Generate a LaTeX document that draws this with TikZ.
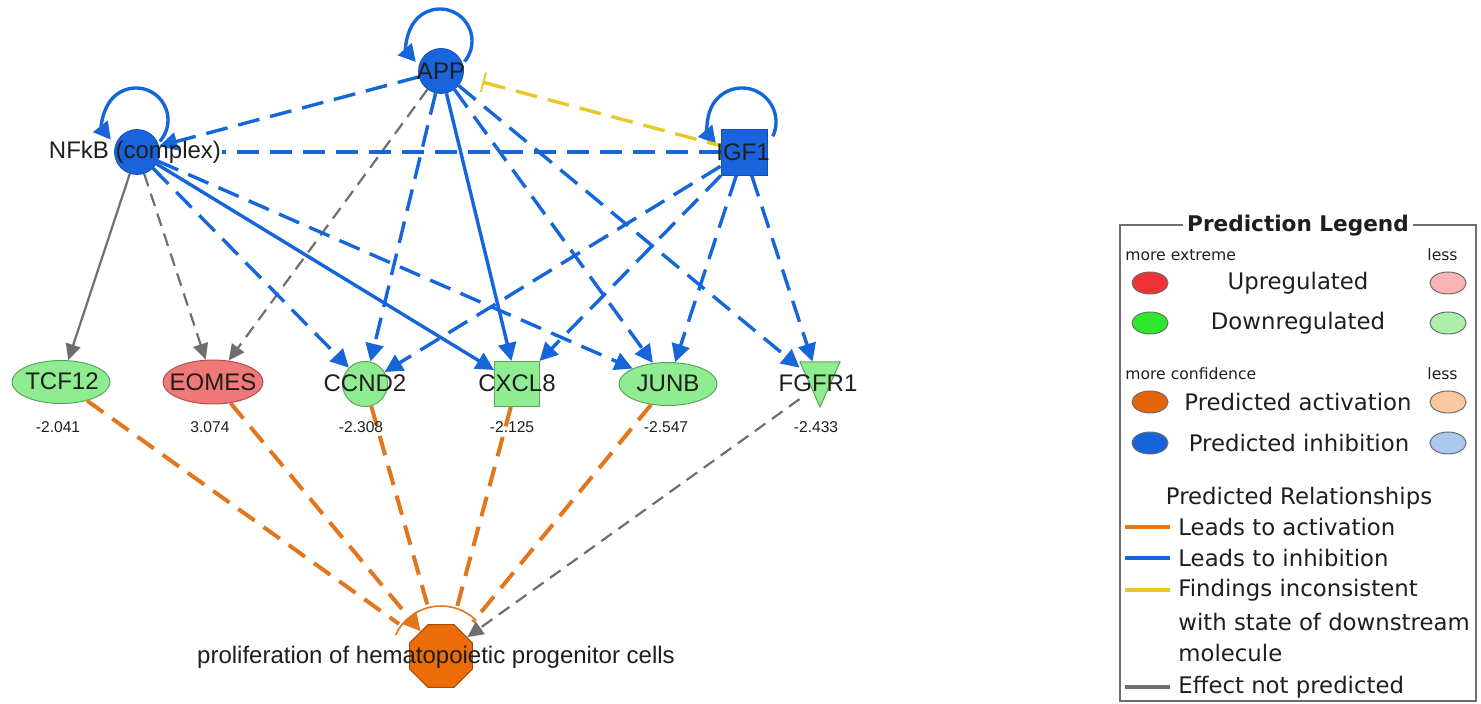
\documentclass[tikz,border=0pt]{standalone}
\usepackage{fontspec}
\setmainfont{Liberation Sans}
\newfontfamily\legfont{DejaVu Sans}
\usetikzlibrary{arrows.meta,shapes.geometric,calc}
\definecolor{eblue}{RGB}{22,102,218}
\definecolor{nblue}{RGB}{25,100,220}
\definecolor{egray}{RGB}{110,110,110}
\definecolor{eorange}{RGB}{226,118,28}
\definecolor{oct}{RGB}{236,108,10}
\definecolor{eyellow}{RGB}{232,200,40}
\definecolor{ngreen}{RGB}{144,236,144}
\definecolor{ngreenb}{RGB}{90,165,90}
\definecolor{nred}{RGB}{240,120,120}
\definecolor{nredb}{RGB}{175,80,80}
\definecolor{lred}{RGB}{240,50,55}
\definecolor{lpink}{RGB}{250,180,182}
\definecolor{lgreen}{RGB}{45,232,45}
\definecolor{llgreen}{RGB}{170,240,170}
\definecolor{lorange}{RGB}{228,100,10}
\definecolor{lpeach}{RGB}{250,200,160}
\definecolor{lblue}{RGB}{20,98,220}
\definecolor{llblue}{RGB}{170,200,240}
\definecolor{txt}{RGB}{30,30,30}
\tikzset{
  inh/.style={draw=eblue, line width=1.7pt, -{Triangle[length=9pt,width=9pt]}},
  inhd/.style={inh, dash pattern=on 11pt off 5.5pt},
  inhdn/.style={draw=eblue, line width=1.7pt, dash pattern=on 11pt off 5.5pt},
  gr/.style={draw=egray, line width=1.1pt, -{Triangle[length=8pt,width=7.5pt]}},
  grd/.style={gr, dash pattern=on 6.5pt off 4pt},
  actd/.style={draw=eorange, line width=2pt, dash pattern=on 10pt off 5.5pt},
  yeld/.style={draw=eyellow, line width=1.7pt, dash pattern=on 11pt off 5.5pt},
  selfloop/.style={draw=eblue, line width=1.7pt, -{Triangle[length=8.5pt,width=9pt]}},
  bluenode/.style={circle, fill=nblue, draw=nblue!80!black, line width=0.4pt, minimum size=22.5pt, inner sep=0pt},
  greennode/.style={fill=ngreen, draw=ngreenb, line width=0.5pt, inner sep=0pt},
  lab/.style={text=txt, font=\fontsize{12}{14}\selectfont, inner sep=0pt},
  val/.style={text=txt, font=\fontsize{7.8}{9}\selectfont, inner sep=0pt},
  lell/.style={ellipse, draw=egray, line width=0.5pt, minimum width=18pt, minimum height=11pt, inner sep=0pt},
  legtxt/.style={text=txt, font=\legfont\fontsize{11.4}{13}\selectfont, inner sep=0pt},
  legsmall/.style={text=txt, font=\legfont\fontsize{7.8}{9}\selectfont, inner sep=0pt},
  legline/.style={line width=2pt},
}
\begin{document}
\begin{tikzpicture}[x=0.5pt,y=-0.5pt]
\useasboundingbox (0,0) rectangle (1481,704);

% ---------- node shapes ----------
\node[bluenode] (app) at (441,71) {};
\node[bluenode] (nfkb) at (137,152) {};
\node[rectangle, fill=nblue, draw=nblue!80!black, line width=0.4pt, minimum size=23pt, inner sep=0pt] (igf) at (744,152) {};
\node[greennode, ellipse, minimum width=49pt, minimum height=21.5pt] (tcf) at (61,382) {};
\node[ellipse, fill=nred, draw=nredb, line width=0.5pt, minimum width=50pt, minimum height=22pt, inner sep=0pt] (eomes) at (213,382) {};
\node[greennode, circle, minimum size=22.5pt] (ccnd) at (365,384) {};
\node[greennode, rectangle, minimum size=22.5pt] (cxcl) at (517,384) {};
\node[greennode, ellipse, minimum width=49pt, minimum height=21.5pt] (junb) at (668,384) {};
\fill[ngreen, draw=ngreenb, line width=0.5pt] (800,362) -- (840,362) -- (820,407) -- cycle;
\node[rectangle, minimum width=20pt, minimum height=22.5pt, inner sep=0pt] (fgfr) at (820,384.5) {};
\node[regular polygon, regular polygon sides=8, minimum size=34pt, fill=oct, draw=oct!70!black, line width=0.5pt, inner sep=0pt] (prol) at (441,656) {};

% ---------- named free ends ----------
\coordinate (nfkbR) at (222,152);
\coordinate (tcfE) at (399,624);
\coordinate (ccndE) at (428,607);
\coordinate (cxclE) at (457,607);
\coordinate (junbE) at (473,622);

% ---------- self loops ----------
\draw[selfloop] ($(440,41)+(40:32)$) arc[start angle=40, end angle=-221, radius=32];
\draw[selfloop] ($(136,120)+(42:32)$) arc[start angle=42, end angle=-218, radius=32];
\draw[selfloop] ($(742,122)+(25:34)$) arc[start angle=25, end angle=-220, radius=34];

% ---------- edges ----------
\draw[inhd] (app) -- (nfkb);
\draw[grd] (app) -- (eomes);
\draw[inhd] (app) -- (ccnd);
\draw[inh] (app) -- (cxcl);
\draw[inhd] (app) -- (junb);
\draw[inhd] (app) -- (fgfr);
\draw[yeld, {Bar[width=10pt,line width=1pt,sep=3pt]}-, shorten <=7pt] (app) -- (igf);
\draw[inhdn] (igf) -- (nfkbR);
\draw[gr] (nfkb) -- (tcf);
\draw[grd] (nfkb) -- (eomes);
\draw[inhd] (nfkb) -- (ccnd);
\draw[inh] (nfkb) -- (cxcl);
\draw[inhd] (nfkb) -- (junb);
\draw[inhd] (igf) -- (ccnd);
\draw[inhd] (igf) -- (cxcl);
\draw[inhd] (igf) -- (junb);
\draw[inhd] (igf) -- (fgfr);

\draw[actd] (tcf) -- (tcfE);
\draw[actd, -{Triangle[length=9pt,width=9pt]}] (eomes) -- (prol);
\draw[actd] (ccnd) -- (ccndE);
\draw[actd] (cxcl) -- (cxclE);
\draw[actd] (junb) -- (junbE);
\draw[grd] (fgfr) -- (prol);
\draw[eorange, line width=0.8pt] ($(prol)+(-155:50)$) arc[start angle=-155, end angle=-45, radius=50];

% ---------- labels ----------
\node[lab] (appL) at (441,71) {APP};
\node[lab] (nfkbL) at (135,152) {NFkB (complex)};
\node[lab] (igfL) at (743,152) {IGF1};
\node[lab] (tcfL) at (62,381) {TCF12};
\node[lab] (eomesL) at (213,382) {EOMES};
\node[lab] (ccndL) at (365,383) {CCND2};
\node[lab] (cxclL) at (517,383) {CXCL8};
\node[lab] (junbL) at (668,383) {JUNB};
\node[lab] (fgfrL) at (818,383) {FGFR1};
\node[lab] (prolL) at (436,657) {proliferation of hematopoietic progenitor cells};
\node[val] (v1) at (58,427) {-2.041};
\node[val] (v2) at (210,427) {3.074};
\node[val] (v3) at (361,427) {-2.308};
\node[val] (v4) at (512,427) {-2.125};
\node[val] (v5) at (666,427) {-2.547};
\node[val] (v6) at (816,427) {-2.433};

% ---------- legend ----------
\node[draw=egray, line width=0.8pt, minimum width=178pt, minimum height=238pt, inner sep=0pt] (legbox) at (1298,463) {};
\node[fill=white, inner xsep=2pt, inner ysep=1pt, text=txt, font=\legfont\bfseries\fontsize{10.8}{13}\selectfont] (legT) at (1298,226) {Prediction Legend};
\node[legsmall, anchor=west] (lme) at (1125,255) {more extreme};
\node[legsmall, anchor=east] (lls1) at (1458,255) {less};
\node[lell, fill=lred] (e1) at (1150,283) {};
\node[legtxt] (t1) at (1298,283) {Upregulated};
\node[lell, fill=lpink] (e2) at (1448,283) {};
\node[lell, fill=lgreen] (e3) at (1150,323) {};
\node[legtxt] (t2) at (1298,323) {Downregulated};
\node[lell, fill=llgreen] (e4) at (1448,323) {};
\node[legsmall, anchor=west] (lmc) at (1125,374) {more confidence};
\node[legsmall, anchor=east] (lls2) at (1458,374) {less};
\node[lell, fill=lorange] (e5) at (1150,402) {};
\node[legtxt] (t3) at (1298,402) {Predicted activation};
\node[lell, fill=lpeach] (e6) at (1448,402) {};
\node[lell, fill=lblue] (e7) at (1150,443) {};
\node[legtxt] (t4) at (1299,443) {Predicted inhibition};
\node[lell, fill=llblue] (e8) at (1448,443) {};
\node[legtxt] (t5) at (1299,498) {Predicted Relationships};
\draw[legline, eorange] (1125,527) -- (1170,527);
\draw[legline, eblue] (1125,558) -- (1170,558);
\draw[legline, eyellow] (1125,590) -- (1170,590);
\draw[legline, egray] (1125,687) -- (1170,687);
\node[legtxt, anchor=west] (r1) at (1178,527) {Leads to activation};
\node[legtxt, anchor=west] (r2) at (1178,558) {Leads to inhibition};
\node[legtxt, anchor=west] (r3) at (1178,590) {Findings inconsistent};
\node[legtxt, anchor=west] (r4) at (1178,622) {with state of downstream};
\node[legtxt, anchor=west] (r5) at (1178,653) {molecule};
\node[legtxt, anchor=west] (r6) at (1178,687) {Effect not predicted};
\end{tikzpicture}
\end{document}
